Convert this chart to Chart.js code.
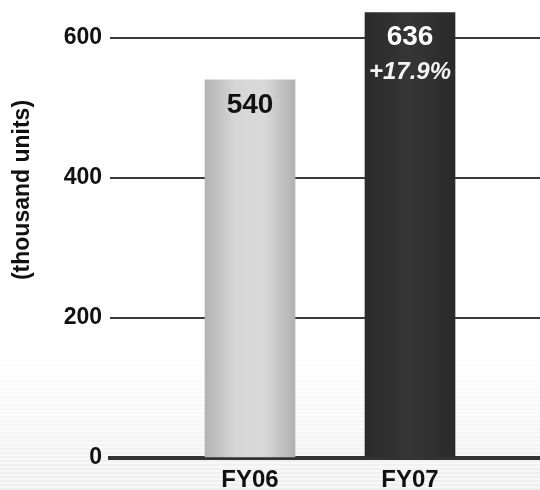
<!DOCTYPE html>
<html>
<head>
<meta charset="utf-8">
<script src="https://cdn.jsdelivr.net/npm/chart.js@4/dist/chart.umd.min.js"></script>
<style>
  html, body { margin: 0; padding: 0; background: #ffffff; }
  canvas { display: block; }
</style>
</head>
<body>
<canvas id="c" width="540" height="490"></canvas>
<script>
// Annual unit volume, thousand units
const categories = ['FY06', 'FY07'];
const units = [540, 636];
const growthLabels = ['', '+17.9%'];
const yTicks = [0, 200, 400, 600];
const axisTitle = '(thousand units)';

const FONT = '"Liberation Sans", Arial, Helvetica, sans-serif';

// Horizontal "cylinder" shading per bar
const barStops = [
  [[0, '#b3b3b3'], [0.33, '#d6d6d6'], [0.66, '#d9d9d9'], [1, '#b1b1b1']],
  [[0, '#2a2a2a'], [0.5, '#363636'], [1, '#2a2a2a']]
];
const barBase = ['#c8c8c8', '#2e2e2e'];
const BAR_W = 90;

function barFill(ctx) {
  const chart = ctx.chart;
  const i = ctx.dataIndex;
  if (!chart.chartArea || !chart.scales.x) return barBase[i];
  const cx = chart.scales.x.getPixelForValue(i);
  const g = chart.ctx.createLinearGradient(cx - BAR_W / 2, 0, cx + BAR_W / 2, 0);
  barStops[i].forEach(([o, c]) => g.addColorStop(o, c));
  return g;
}

// Faint striped haze toward the bottom of the canvas
const backdrop = {
  id: 'backdrop',
  beforeDraw(chart) {
    const { ctx, width, height } = chart;
    ctx.save();
    ctx.fillStyle = '#ffffff';
    ctx.fillRect(0, 0, width, height);
    const top = 350;
    const g = ctx.createLinearGradient(0, top, 0, height);
    g.addColorStop(0, 'rgba(238,238,238,0)');
    g.addColorStop(1, 'rgba(238,238,238,1)');
    ctx.fillStyle = g;
    ctx.fillRect(0, top, width, height - top);
    for (let y = top; y < height; y += 4) {
      ctx.fillStyle = 'rgba(255,255,255,0.5)';
      ctx.fillRect(0, y, width, 2);
    }
    ctx.restore();
  }
};

// Value and growth labels inside the bars, plus the rotated axis title
const annotations = {
  id: 'annotations',
  afterDatasetsDraw(chart) {
    const { ctx } = chart;
    const meta = chart.getDatasetMeta(0);
    ctx.save();
    ctx.textAlign = 'center';
    ctx.textBaseline = 'middle';
    meta.data.forEach((bar, i) => {
      ctx.fillStyle = i === 0 ? '#111111' : '#ffffff';
      ctx.font = 'bold 28px ' + FONT;
      ctx.fillText(String(units[i]), bar.x, bar.y + 25);
      if (growthLabels[i]) {
        ctx.fillStyle = '#f4f4f4';
        ctx.font = 'italic bold 24px ' + FONT;
        ctx.fillText(growthLabels[i], bar.x, bar.y + 60);
      }
    });
    ctx.translate(23, 190);
    ctx.rotate(-Math.PI / 2);
    ctx.fillStyle = '#111111';
    ctx.font = 'bold 23px ' + FONT;
    ctx.fillText(axisTitle, 0, 0);
    ctx.restore();
  }
};

function noEdgePadding(s) {
  s.paddingTop = 0;
  s.paddingBottom = 0;
  s.paddingLeft = 0;
  s.paddingRight = 0;
}

new Chart(document.getElementById('c'), {
  type: 'bar',
  data: {
    datasets: [{
      data: categories.map((c, i) => ({ x: i, y: units[i] })),
      backgroundColor: barFill,
      borderWidth: 0,
      barThickness: BAR_W
    }]
  },
  options: {
    responsive: false,
    animation: false,
    devicePixelRatio: 1,
    layout: { padding: 0 },
    plugins: { legend: { display: false }, tooltip: { enabled: false } },
    scales: {
      x: {
        type: 'linear',
        offset: false,
        min: -0.875,
        max: 1.8125,
        afterBuildTicks: (s) => { s.ticks = categories.map((c, i) => ({ value: i })); },
        afterFit: (s) => { s.height = 32; noEdgePadding(s); },
        grid: { display: false, drawTicks: false, offset: false },
        border: { display: true, color: '#333333', width: 4 },
        ticks: {
          callback: (v) => categories[v],
          color: '#111111',
          padding: 8,
          font: { family: FONT, size: 24, weight: 'bold' }
        }
      },
      y: {
        min: 0,
        max: 654,
        afterBuildTicks: (s) => { s.ticks = yTicks.map(v => ({ value: v })); },
        afterFit: (s) => { s.width = 110; noEdgePadding(s); },
        grid: {
          drawTicks: false,
          lineWidth: 2,
          color: (c) => (c.tick && c.tick.value === 0) ? 'rgba(0,0,0,0)' : '#3a3a3a'
        },
        border: { display: false },
        ticks: {
          color: '#111111',
          padding: 8,
          font: { family: FONT, size: 23, weight: 'bold' }
        }
      }
    }
  },
  plugins: [backdrop, annotations]
});
</script>
</body>
</html>
